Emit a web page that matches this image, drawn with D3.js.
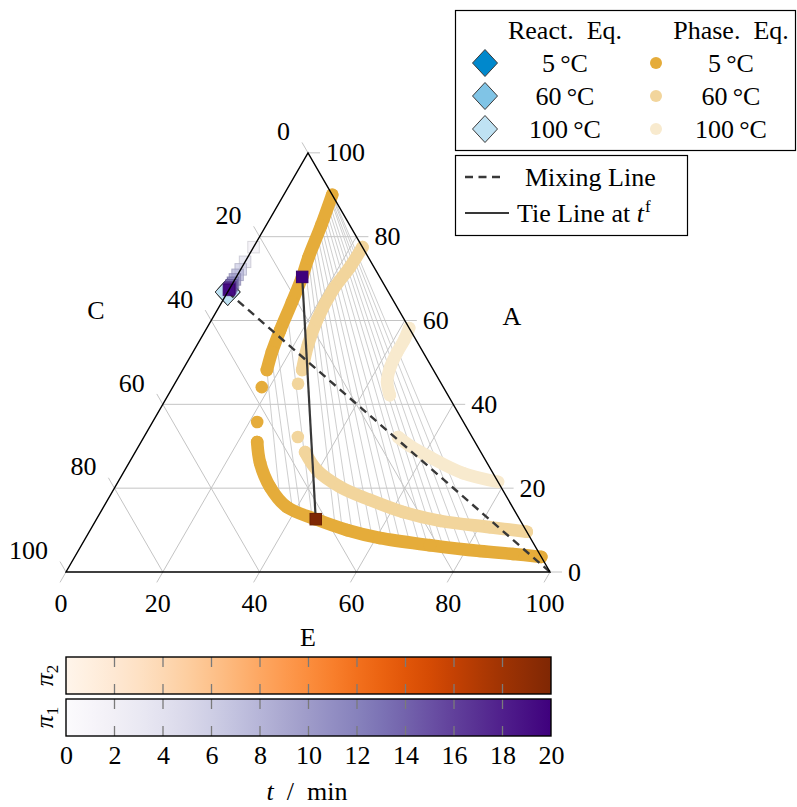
<!DOCTYPE html>
<html>
<head>
<meta charset="utf-8">
<script src="https://cdn.jsdelivr.net/npm/d3@7"></script>
<style>
  html, body { margin: 0; padding: 0; background: #fff; }
  svg { display: block; font-family: "Liberation Serif", "Times New Roman", serif; }
</style>
</head>
<body>
<svg id="chart" width="797" height="807"></svg>
<script>
// ---------- data (compositions in %, given as [E, A]; C = 100 - E - A) ----------
const axisTicks = [0, 20, 40, 60, 80, 100];
const gridValues = [20, 40, 60, 80];

// phase equilibria (binodal) at three temperatures
const phaseTemps = ["5", "60", "100"];
const phase5Upper = [[10.0, 90.0], [11.4, 82.6], [12.6, 74.9], [13.6, 70.4], [14.5, 64.4], [15.4, 57.7], [16.3, 52.5], [17.4, 48.2]];
const phase5Single = [[18.4, 44.1], [21.6, 35.8]];
const phase5Lower = [[24.0, 31.0], [27.1, 26.0], [32.0, 20.3], [37.9, 15.5], [45.3, 12.6], [53.1, 10.0], [60.8, 8.1], [72.0, 6.4], [83.0, 5.0], [90.2, 4.3], [96.4, 3.6]];

const phase60Upper = [[22.5, 77.5], [22.3, 72.8], [21.5, 67.3], [21.8, 60.1], [22.9, 54.2], [24.7, 48.2]];
const phase60Single = [[25.5, 44.9], [31.8, 32.2]];
const phase60Lower = [[35.1, 28.6], [39.7, 24.3], [46.5, 20.3], [54.2, 17.2], [62.5, 14.3], [71.2, 12.2], [82.2, 10.7], [90.4, 9.6]];

const phase100Upper = [[41.8, 58.2], [42.2, 55.4], [42.2, 52.5], [42.6, 48.7], [43.7, 45.3], [45.8, 42.2]];
const phase100Single = [];
const phase100Lower = [[52.5, 32.2], [56.0, 30.1], [61.5, 27.4], [70.2, 23.6], [78.5, 21.5]];

// 5 °C tie lines of the phase equilibrium data
const tieUpperE = [17.4, 16.5, 15.7, 14.4, 12.8, 12.6, 12.3, 12.0, 11.8, 11.6, 11.4, 11.3, 11.1, 10.9, 10.8, 10.6, 10.4, 10.3, 10.2, 10.1, 10.1];
const tieUpperA = [48.2, 51.8, 55.4, 62.5, 73.2, 74.9, 76.3, 78.0, 79.2, 80.6, 81.8, 82.8, 84.0, 85.2, 86.1, 87.1, 88.0, 88.8, 89.2, 89.7, 89.9];
const tieLowerE = [35.6, 39.1, 41.1, 44.4, 50.1, 51.8, 54.2, 56.5, 58.9, 61.2, 63.5, 65.3, 67.6, 69.9, 71.7, 73.5, 75.2, 77.0, 79.2, 81.4, 83.6];
const tieLowerA = [17.2, 15.3, 14.6, 12.9, 11.0, 10.5, 9.8, 9.3, 8.6, 8.1, 7.6, 7.4, 6.9, 6.4, 6.2, 6.0, 5.7, 5.5, 5.3, 5.0, 4.8];

// reaction equilibria
const reactTemps = ["5", "60", "100"];
const reactE = [0, 0, 0];
const reactA = [66.8, 66.8, 66.8];

// trajectory over time (min)
const pi1Times = [2, 4, 6, 8, 10, 12, 14, 16, 18, 20];
const pi1E = [0, 0, 0, 0, 0, 0, 0, 0, 0, 0];
const pi1A = [77.5, 74.0, 72.2, 70.9, 69.8, 69.0, 68.4, 67.9, 67.6, 67.3];

// tie line at final time t_f
const tFinal = 20;
const pi1Final = [13.6, 70.4];
const pi2Final = [45.3, 12.6];

// mixing line: reaction equilibrium -> pure E
const mixStart = [0, 66.8];
const mixEnd = [100, 0];

// colour bar
const timeDomain = [0, 20];
const timeTicks = [0, 2, 4, 6, 8, 10, 12, 14, 16, 18, 20];

// ---------- styling ----------
const phaseColors = ["#E5AC3A", "#F2D59C", "#F8EACE"];
const reactColors = ["#0088CC", "#80C4E6", "#BFE2F3"];
const gridColor = "#c4c4c4";
const lineDark = "#383838";
const FS = 26;

// ---------- layout ----------
const svg = d3.select("#chart");
const X0 = 66, X1 = 550, Y0 = 572;
const side = X1 - X0;
const triH = side * Math.sqrt(3) / 2;

const xs = d3.scaleLinear().domain([0, 100]).range([X0, X1]);
const ys = d3.scaleLinear().domain([0, 100]).range([Y0, Y0 - triH]);
const proj = (E, A) => [xs(E + A / 2), ys(A)];

const gPlot = svg.append("g");

// grid lines
const gridSegs = [];
gridValues.forEach(v => {
  gridSegs.push([proj(0, v), proj(100 - v, v)]);          // constant A
  gridSegs.push([proj(v, 0), proj(v, 100 - v)]);          // constant E
  gridSegs.push([proj(0, 100 - v), proj(100 - v, 0)]);    // constant C
});
gPlot.append("g").selectAll("line").data(gridSegs).join("line")
  .attr("x1", d => d[0][0]).attr("y1", d => d[0][1])
  .attr("x2", d => d[1][0]).attr("y2", d => d[1][1])
  .attr("stroke", gridColor).attr("stroke-width", 1);

// ticks outside the triangle
const TL = 12;
const tickSegs = [];
axisTicks.forEach(v => {
  const a = proj(100 - v, v); tickSegs.push({ p: a, q: [a[0] + TL, a[1]], axis: "A", v });
  const e = proj(v, 0); tickSegs.push({ p: e, q: [e[0] - TL / 2, e[1] + TL * 0.866], axis: "E", v });
  const c = proj(0, 100 - v); tickSegs.push({ p: c, q: [c[0] - TL / 2, c[1] - TL * 0.866], axis: "C", v });
});
gPlot.append("g").selectAll("line").data(tickSegs).join("line")
  .attr("x1", d => d.p[0]).attr("y1", d => d.p[1])
  .attr("x2", d => d.q[0]).attr("y2", d => d.q[1])
  .attr("stroke", gridColor).attr("stroke-width", 1);

// 5 °C tie lines
gPlot.append("g").selectAll("line").data(d3.range(tieUpperE.length)).join("line")
  .attr("x1", i => proj(tieUpperE[i], tieUpperA[i])[0])
  .attr("y1", i => proj(tieUpperE[i], tieUpperA[i])[1])
  .attr("x2", i => proj(tieLowerE[i], tieLowerA[i])[0])
  .attr("y2", i => proj(tieLowerE[i], tieLowerA[i])[1])
  .attr("stroke", "#c8c8c8").attr("stroke-width", 0.9);

// phase equilibrium points (dense, drawn as a band of markers)
const R = 6.3;
const band = d3.line().x(d => proj(d[0], d[1])[0]).y(d => proj(d[0], d[1])[1])
  .curve(d3.curveCatmullRom.alpha(0.5));
const phaseSets = [
  [phase5Upper, phase5Single, phase5Lower],
  [phase60Upper, phase60Single, phase60Lower],
  [phase100Upper, phase100Single, phase100Lower]
];
[2, 1, 0].forEach(k => {
  const g = gPlot.append("g");
  const [up, single, low] = phaseSets[k];
  [up, low].forEach(branch => {
    g.append("path").attr("d", band(branch))
      .attr("fill", "none").attr("stroke", phaseColors[k])
      .attr("stroke-width", 2 * R).attr("stroke-linecap", "round").attr("stroke-linejoin", "round");
  });
  g.selectAll("circle").data(up.concat(single, low)).join("circle")
    .attr("cx", d => proj(d[0], d[1])[0]).attr("cy", d => proj(d[0], d[1])[1])
    .attr("r", R).attr("fill", phaseColors[k]);
});

// reaction equilibria (diamonds)
const diamond = (w, h) => `M0,${-h}L${w},0L0,${h}L${-w},0Z`;
reactTemps.forEach((t, i) => {
  const p = proj(reactE[i], reactA[i]);
  gPlot.append("path").attr("d", diamond(12.5, 13.5))
    .attr("transform", `translate(${p[0]},${p[1]})`)
    .attr("fill", reactColors[i]).attr("stroke", "#3a3a3a").attr("stroke-width", 1);
});

// mixing line
const pm0 = proj(mixStart[0], mixStart[1]), pm1 = proj(mixEnd[0], mixEnd[1]);
gPlot.append("line").attr("x1", pm0[0]).attr("y1", pm0[1]).attr("x2", pm1[0]).attr("y2", pm1[1])
  .attr("stroke", lineDark).attr("stroke-width", 2.4).attr("stroke-dasharray", "8,5.5");

// tie line at t_f
const pt1 = proj(pi1Final[0], pi1Final[1]), pt2 = proj(pi2Final[0], pi2Final[1]);
gPlot.append("line").attr("x1", pt1[0]).attr("y1", pt1[1]).attr("x2", pt2[0]).attr("y2", pt2[1])
  .attr("stroke", lineDark).attr("stroke-width", 2.2);

// colour scales over time
const purple = d3.scaleSequential(d3.interpolatePurples).domain(timeDomain);
const orange = d3.scaleSequential(d3.interpolateOranges).domain(timeDomain);

// trajectory squares
const SQ = 11.5;
gPlot.append("g").selectAll("rect").data(d3.range(pi1Times.length)).join("rect")
  .attr("x", i => proj(pi1E[i], pi1A[i])[0] - SQ / 2)
  .attr("y", i => proj(pi1E[i], pi1A[i])[1] - SQ / 2)
  .attr("width", SQ).attr("height", SQ)
  .attr("fill", i => purple(pi1Times[i])).attr("fill-opacity", 0.75)
  .attr("stroke", i => d3.color(purple(pi1Times[i])).darker(0.4)).attr("stroke-opacity", 0.8)
  .attr("stroke-width", 1);

// phase compositions at t_f
[[pt1, purple(tFinal)], [pt2, orange(tFinal)]].forEach(([p, c]) => {
  gPlot.append("rect").attr("x", p[0] - SQ / 2).attr("y", p[1] - SQ / 2)
    .attr("width", SQ).attr("height", SQ).attr("fill", c)
    .attr("stroke", d3.color(c).darker(0.4)).attr("stroke-width", 1);
});

// triangle frame
gPlot.append("path")
  .attr("d", d3.line()([proj(0, 0), proj(100, 0), proj(0, 100)]) + "Z")
  .attr("fill", "none").attr("stroke", "#000").attr("stroke-width", 1.4);

// tick labels
const gLab = svg.append("g").attr("font-size", FS).attr("fill", "#000");
tickSegs.forEach(d => {
  if (d.axis === "A") {
    gLab.append("text").attr("x", d.q[0] + 6).attr("y", d.q[1]).attr("dy", "0.33em")
      .attr("text-anchor", "start").text(d.v);
  } else if (d.axis === "E") {
    gLab.append("text").attr("x", d.p[0] - 5).attr("y", 603).attr("dy", "0.33em")
      .attr("text-anchor", "middle").text(d.v);
  } else {
    gLab.append("text").attr("x", d.q[0] - 12).attr("y", d.q[1] - 11).attr("dy", "0.33em")
      .attr("text-anchor", "end").text(d.v);
  }
});

// axis titles
[["E", 308, 637], ["C", 96, 310], ["A", 512, 316]].forEach(([t, x, y]) => {
  gLab.append("text").attr("x", x).attr("y", y).attr("dy", "0.33em")
    .attr("text-anchor", "middle").text(t);
});

// ---------- legends ----------
const gLeg = svg.append("g").attr("font-size", FS);
gLeg.append("rect").attr("x", 455.5).attr("y", 10.5).attr("width", 340).attr("height", 140)
  .attr("fill", "#fff").attr("stroke", "#000").attr("stroke-width", 1.2);
gLeg.append("text").attr("x", 565).attr("y", 30).attr("dy", "0.33em").attr("text-anchor", "middle")
  .text("React.\u2002Eq.");
gLeg.append("text").attr("x", 731).attr("y", 30).attr("dy", "0.33em").attr("text-anchor", "middle")
  .text("Phase.\u2002Eq.");
const rowY = [63, 96, 129];
reactTemps.forEach((t, i) => {
  gLeg.append("path").attr("d", diamond(12.5, 13.5))
    .attr("transform", `translate(485,${rowY[i]})`)
    .attr("fill", reactColors[i]).attr("stroke", "#3a3a3a").attr("stroke-width", 1);
  gLeg.append("text").attr("x", 565).attr("y", rowY[i]).attr("dy", "0.33em").attr("text-anchor", "middle")
    .text(`${t}\u2009°C`);
});
phaseTemps.forEach((t, i) => {
  gLeg.append("circle").attr("cx", 656).attr("cy", rowY[i]).attr("r", 6).attr("fill", phaseColors[i]);
  gLeg.append("text").attr("x", 731).attr("y", rowY[i]).attr("dy", "0.33em").attr("text-anchor", "middle")
    .text(`${t}\u2009°C`);
});

gLeg.append("rect").attr("x", 455.5).attr("y", 155.5).attr("width", 232).attr("height", 80)
  .attr("fill", "#fff").attr("stroke", "#000").attr("stroke-width", 1.2);
gLeg.append("line").attr("x1", 465).attr("x2", 505).attr("y1", 177).attr("y2", 177)
  .attr("stroke", lineDark).attr("stroke-width", 2.4).attr("stroke-dasharray", "8,5.5");
gLeg.append("text").attr("x", 525).attr("y", 177).attr("dy", "0.33em").text("Mixing Line");
gLeg.append("line").attr("x1", 465).attr("x2", 509).attr("y1", 213).attr("y2", 213)
  .attr("stroke", lineDark).attr("stroke-width", 2.2);
const tl = gLeg.append("text").attr("x", 517).attr("y", 213).attr("dy", "0.33em");
tl.append("tspan").text("Tie Line at ");
tl.append("tspan").attr("font-style", "italic").text("t");
tl.append("tspan").attr("font-size", 17).attr("dy", "-0.55em").attr("dx", "1").text("f");

// ---------- colour bars ----------
const cb = d3.scaleLinear().domain(timeDomain).range([66, 551]);
const defs = svg.append("defs");
const bars = [
  { id: "gradPi2", interp: d3.interpolateOranges, y: 657, label: "2" },
  { id: "gradPi1", interp: d3.interpolatePurples, y: 699, label: "1" }
];
const BH = 37;
bars.forEach(b => {
  const grad = defs.append("linearGradient").attr("id", b.id).attr("x1", "0%").attr("x2", "100%");
  d3.range(0, 1.0001, 0.05).forEach(s => {
    grad.append("stop").attr("offset", `${s * 100}%`).attr("stop-color", b.interp(s));
  });
  const g = svg.append("g");
  g.append("rect").attr("x", cb(timeDomain[0])).attr("y", b.y)
    .attr("width", cb(timeDomain[1]) - cb(timeDomain[0])).attr("height", BH)
    .attr("fill", `url(#${b.id})`);
  g.selectAll("line.tk").data(timeTicks.slice(1, -1)).join("line")
    .attr("x1", d => cb(d)).attr("x2", d => cb(d))
    .attr("y1", b.y).attr("y2", b.y + 10)
    .attr("stroke", "#7a7a7a").attr("stroke-width", 1.3);
  g.selectAll("line.bk").data(timeTicks.slice(1, -1)).join("line")
    .attr("x1", d => cb(d)).attr("x2", d => cb(d))
    .attr("y1", b.y + BH - 10).attr("y2", b.y + BH)
    .attr("stroke", "#7a7a7a").attr("stroke-width", 1.3);
  g.append("rect").attr("x", cb(timeDomain[0])).attr("y", b.y)
    .attr("width", cb(timeDomain[1]) - cb(timeDomain[0])).attr("height", BH)
    .attr("fill", "none").attr("stroke", "#000").attr("stroke-width", 1.4);
  const lab = g.append("text").attr("font-size", FS)
    .attr("transform", `translate(53,${b.y + BH / 2}) rotate(-90)`)
    .attr("text-anchor", "middle");
  lab.append("tspan").attr("font-style", "italic").text("π");
  lab.append("tspan").attr("font-size", 17).attr("dy", "0.3em").text(b.label);
});

const cbAxis = svg.append("g").attr("transform", "translate(0,736)")
  .call(d3.axisBottom(cb).tickValues(timeTicks).tickSize(0).tickPadding(0).tickFormat(d3.format("d")));
cbAxis.select(".domain").remove();
cbAxis.selectAll("text").attr("font-family", "Liberation Serif").attr("font-size", FS)
  .attr("fill", "#000").attr("y", 19).attr("dy", "0.33em");

const tt = svg.append("text").attr("x", 307).attr("y", 791).attr("dy", "0.33em")
  .attr("text-anchor", "middle").attr("font-size", FS);
tt.append("tspan").attr("font-style", "italic").text("t");
tt.append("tspan").text("\u2002/\u2002min");
</script>
</body>
</html>
